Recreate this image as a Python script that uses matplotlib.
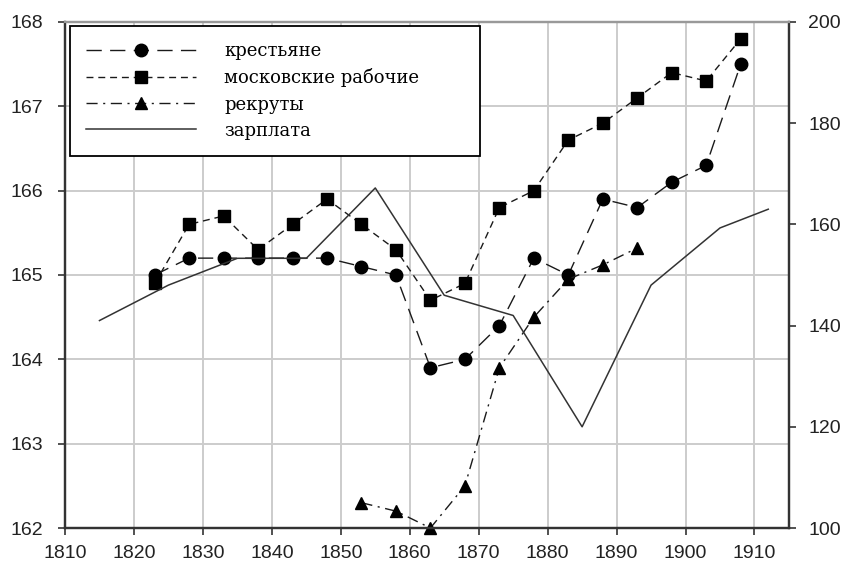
import matplotlib.pyplot as plt

# рост (левая ось), годы рождения
years = [1823, 1828, 1833, 1838, 1843, 1848, 1853, 1858, 1863,
         1868, 1873, 1878, 1883, 1888, 1893, 1898, 1903, 1908]
peasants = [165.0, 165.2, 165.2, 165.2, 165.2, 165.2, 165.1, 165.0, 163.9,
            164.0, 164.4, 165.2, 165.0, 165.9, 165.8, 166.1, 166.3, 167.5]
workers = [164.9, 165.6, 165.7, 165.3, 165.6, 165.9, 165.6, 165.3, 164.7,
           164.9, 165.8, 166.0, 166.6, 166.8, 167.1, 167.4, 167.3, 167.8]

recruit_years = [1853, 1858, 1863, 1868, 1873, 1878, 1883, 1888, 1893]
recruits = [162.3, 162.2, 162.0, 162.5, 163.9, 164.5, 164.95, 165.12, 165.32]

# зарплата (правая ось)
wage_years = [1815, 1825, 1835, 1845, 1855, 1865, 1875, 1885, 1895, 1905, 1912]
wages = [141, 148, 153.3, 153.3, 167.2, 146, 142, 120, 148, 159.3, 163]

labels = ['крестьяне', 'московские рабочие', 'рекруты', 'зарплата']

plt.rcParams['font.family'] = ['Liberation Sans', 'DejaVu Sans']

fig = plt.figure(figsize=(8.42, 5.68), dpi=100)
ax = fig.add_axes([0.0772, 0.0704, 0.8598, 0.8909])
ax2 = ax.twinx()

lc = '#1a1a1a'
l1, = ax.plot(years, peasants, color=lc, lw=1.0, dashes=(11, 6),
              marker='o', ms=9, mfc='black', mec='black')
l2, = ax.plot(years, workers, color=lc, lw=1.0, dashes=(5, 3.5),
              marker='s', ms=8, mfc='black', mec='black')
l3, = ax.plot(recruit_years, recruits, color=lc, lw=1.0, dashes=(8, 4, 1.5, 4),
              marker='^', ms=9, mfc='black', mec='black', clip_on=False)
l4, = ax2.plot(wage_years, wages, color='#333333', lw=1.1)

ax.set_xlim(1810, 1915)
ax.set_ylim(162, 168)
ax2.set_ylim(100, 200)
ax.set_xticks(range(1810, 1911, 10))
ax.set_yticks(range(162, 169))
ax2.set_yticks(range(100, 201, 20))

ax.grid(True, color='#cccccc', lw=1.4)
ax.set_axisbelow(True)

for a in (ax, ax2):
    a.tick_params(labelsize=14, length=5, width=1.2, color='#333333',
                  labelcolor='#222222')
    for s in a.spines.values():
        s.set_linewidth(1.6)
        s.set_color('#333333')
    a.spines['top'].set_color('#999999')
ax.tick_params(axis='y', pad=11)
ax.tick_params(axis='x', pad=7)
ax2.tick_params(axis='y', pad=9)

leg = ax2.legend([l1, l2, l3, l4], labels, loc='upper left',
                 bbox_to_anchor=(0.007, 0.992, 0.566, 0.0), mode='expand',
                 borderaxespad=0,
                 prop={'family': 'DejaVu Serif', 'size': 13},
                 handlelength=6.1, handletextpad=1.55, labelspacing=0.45,
                 borderpad=0.9, fancybox=False, framealpha=1)
leg.get_frame().set_edgecolor('black')
leg.get_frame().set_linewidth(1.3)

fig.savefig('out.png', dpi=100)
